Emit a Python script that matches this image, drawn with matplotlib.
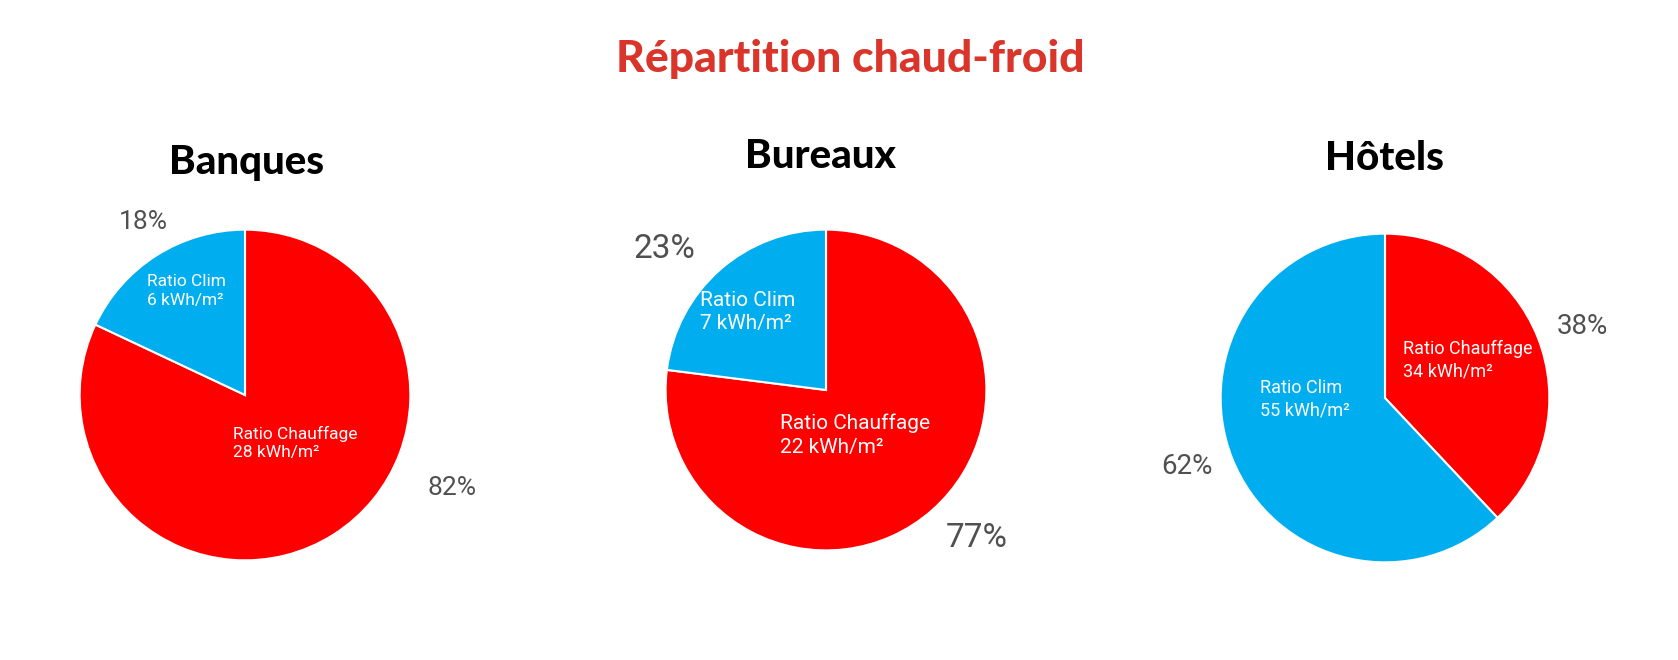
import matplotlib
matplotlib.use("Agg")
import matplotlib.pyplot as plt

W, H = 1678, 660

title = "Répartition chaud-froid"
categories = ["Banques", "Bureaux", "Hôtels"]
chauffage_pct = [82, 77, 38]
clim_pct = [18, 23, 62]
chauffage_kwh = [28, 22, 34]
clim_kwh = [6, 7, 55]

RED = "#ff0000"
BLUE = "#00aeef"
GRAY = "#505050"

# layout (pixels): pie centers/radius, title positions, label positions
pies = [
    dict(cx=245, cy=395, r=167, tx=247, ty=174, tsize=29,
         pct_clim=(143, 222), pct_ch=(452, 488), psize=19,
         lab_clim=(147, 291), lab_ch=(233, 443), lsize=12.5),
    dict(cx=826, cy=390, r=162, tx=820, ty=168, tsize=29,
         pct_clim=(664, 249), pct_ch=(977, 538), psize=24,
         lab_clim=(700, 312), lab_ch=(780, 435), lsize=15),
    dict(cx=1385, cy=398, r=166, tx=1385, ty=170, tsize=29,
         pct_clim=(1187, 467), pct_ch=(1582, 327), psize=20,
         lab_clim=(1260, 399), lab_ch=(1403, 360), lsize=13),
]

fig = plt.figure(figsize=(W / 100, H / 100), dpi=100)
fig.patch.set_facecolor("white")

def fx(x):
    return x / W

def fy(y):
    return 1 - y / H

fig.text(fx(850), fy(72), title, ha="center", va="baseline",
         fontsize=32, fontweight="black", family=["Lato", "DejaVu Sans"],
         color="#d9352a")

for i, p in enumerate(pies):
    cx, cy, r = p["cx"], p["cy"], p["r"]
    ax = fig.add_axes([fx(cx - r), fy(cy + r), 2 * r / W, 2 * r / H])
    ax.pie([chauffage_pct[i], clim_pct[i]], colors=[RED, BLUE],
           startangle=90, counterclock=False, radius=1,
           wedgeprops=dict(edgecolor="white", linewidth=1.5))
    ax.set_xlim(-1.01, 1.01)
    ax.set_ylim(-1.01, 1.01)
    ax.set_aspect("auto")
    ax.axis("off")

    fig.text(fx(p["tx"]), fy(p["ty"]), categories[i], ha="center", va="baseline",
             fontsize=p["tsize"], fontweight="black",
             family=["Lato", "DejaVu Sans"], color="black")

    for (px, py), val in ((p["pct_clim"], clim_pct[i]), (p["pct_ch"], chauffage_pct[i])):
        fig.text(fx(px), fy(py), f"{val}%", ha="center", va="center",
                 fontsize=p["psize"], fontweight="normal",
                 family=["Roboto", "DejaVu Sans"], color=GRAY)

    lx, ly = p["lab_clim"]
    fig.text(fx(lx), fy(ly), f"Ratio Clim\n{clim_kwh[i]} kWh/m²", ha="left",
             va="center", fontsize=p["lsize"], family=["Roboto", "DejaVu Sans"],
             color="white", linespacing=1.3)
    lx, ly = p["lab_ch"]
    fig.text(fx(lx), fy(ly), f"Ratio Chauffage\n{chauffage_kwh[i]} kWh/m²", ha="left",
             va="center", fontsize=p["lsize"], family=["Roboto", "DejaVu Sans"],
             color="white", linespacing=1.3)

fig.savefig("out.png", dpi=100, facecolor="white")
